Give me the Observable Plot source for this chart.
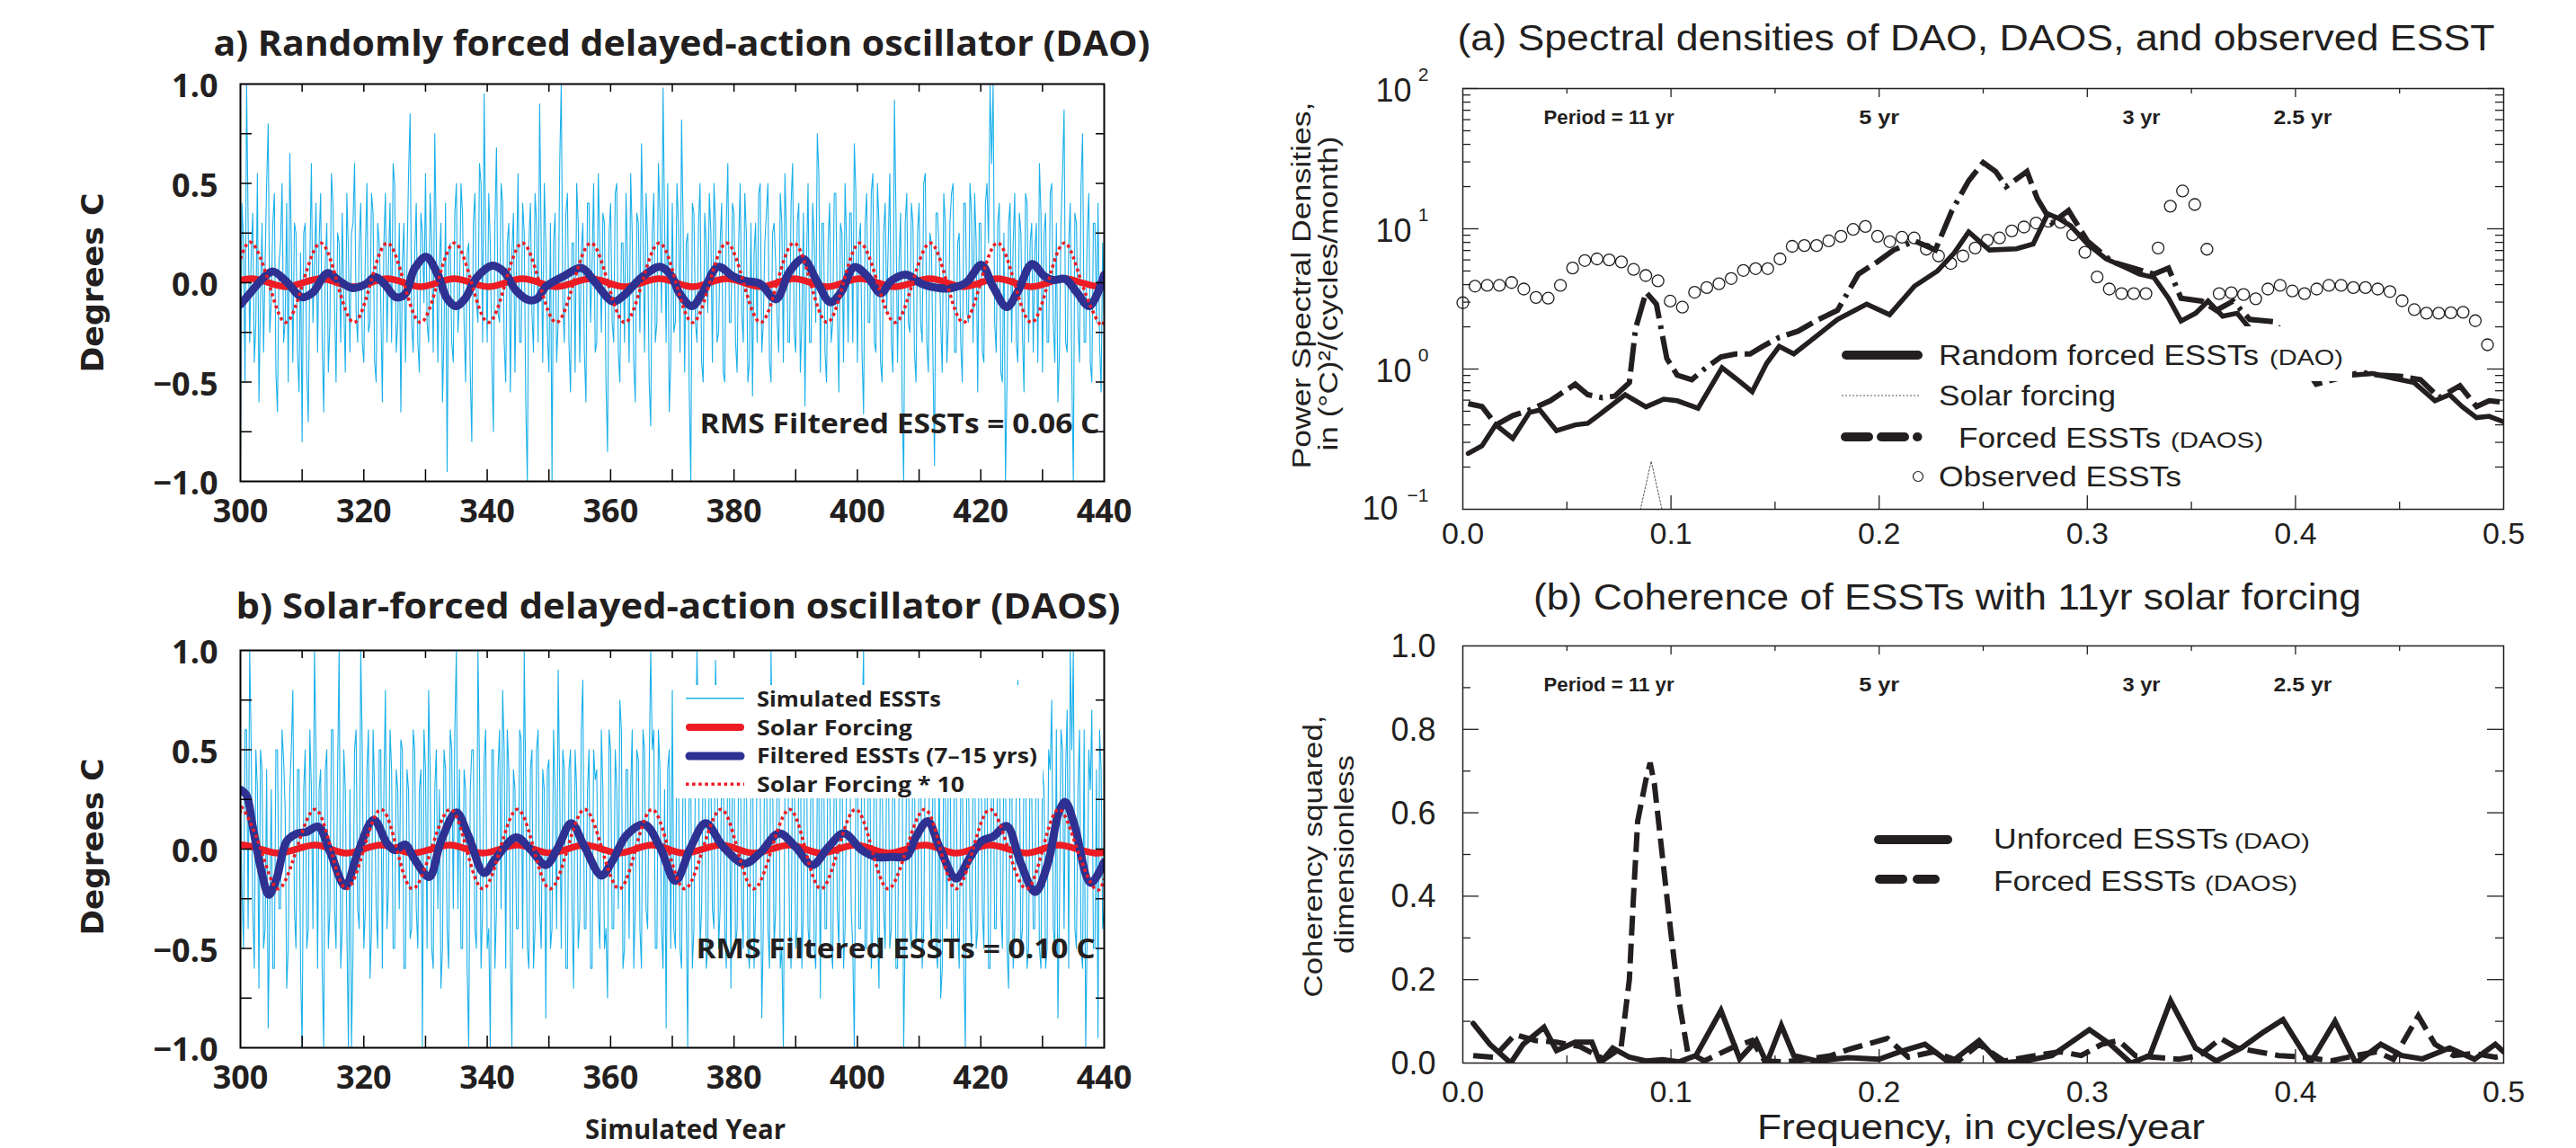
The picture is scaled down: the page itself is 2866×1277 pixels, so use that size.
<!DOCTYPE html>
<html>
<head>
<meta charset="utf-8">
<script src="https://cdn.jsdelivr.net/npm/d3@7"></script>
<script src="https://cdn.jsdelivr.net/npm/@observablehq/plot@0.6"></script>
<style>
html,body{margin:0;padding:0;background:#fff}
#root{position:relative;width:2866px;height:1277px;overflow:hidden;background:#fff}
.p{position:absolute}
.p svg{display:block;overflow:visible}
#overlay{position:absolute;left:0;top:0;pointer-events:none}
</style>
</head>
<body>
<div id="root">
  <div id="pa" class="p" style="left:0;top:0;width:1300px;height:600px"></div>
  <div id="pb" class="p" style="left:0;top:600px;width:1300px;height:677px"></div>
  <div id="pc" class="p" style="left:1400px;top:0;width:1466px;height:620px"></div>
  <div id="pd" class="p" style="left:1400px;top:620px;width:1466px;height:657px"></div>
  <svg id="overlay" width="2866" height="1277"></svg>
</div>
<script>
// ---------------- DATA ----------------
// Simulated ESSTs, read coarsely: values on the half-year (300, 300.5, ... 440)
const noiseA = [
-0.9,0.2,1.0,-0.3,0.35,-0.2,-0.6,0.3,0.1,0.8,-0.1,0.45,-0.65,0.2,-0.3,0.4,0.65,-0.4,0.25,-0.55,
-0.8,0.3,-0.7,0.6,0.1,-0.35,0.45,-0.65,0.3,-0.2,0.4,-0.5,0.2,0.35,-0.45,0.15,0.25,0.6,-0.3,0.4,
-0.4,0.5,-0.2,0.35,-0.5,0.2,-0.6,0.45,0.1,-0.3,0.5,-0.2,-0.65,0.3,0.1,0.85,-0.35,0.4,-0.45,0.25,
0.55,-0.3,0.2,0.75,-0.4,0.3,-0.25,-0.95,0.2,-0.4,0.5,-0.1,0.35,-0.5,0.2,-0.8,0.45,-0.2,0.5,0.95,
-0.3,0.2,-0.75,0.68,-0.2,0.4,-0.5,0.3,0.15,-0.45,0.55,-0.3,0.25,-1.0,0.4,-0.35,0.3,0.9,-0.4,0.2,
-0.45,-1.0,0.35,-0.2,1.0,-0.3,0.45,-0.55,0.2,0.5,-0.4,0.3,-0.6,0.4,0.1,-0.35,0.55,-0.25,0.3,-0.85,
0.4,-0.3,0.5,-0.5,0.2,0.45,-0.4,0.25,-0.6,0.3,0.7,-0.35,0.2,-0.72,0.45,-0.2,0.35,0.98,-0.3,-0.65,
0.4,-0.2,0.3,0.82,-0.45,0.25,-1.0,0.35,-0.3,0.5,-0.5,0.2,0.45,-0.4,0.3,-0.25,0.4,-0.5,0.6,-0.2,
0.35,-0.45,0.5,-0.3,0.25,-0.4,-0.57,0.3,0.45,-0.35,0.2,0.5,-0.5,0.3,-0.2,0.45,-0.4,0.25,-0.3,0.6,
-0.35,0.4,-0.2,-0.62,0.5,-0.3,0.2,0.75,-0.45,0.3,-0.5,0.4,-0.2,0.45,-0.55,0.25,0.5,-0.3,0.35,0.7,
-0.4,0.3,-0.66,0.45,-0.2,0.55,-0.35,0.3,-0.5,0.4,0.2,-0.3,0.92,-0.4,0.35,-1.0,0.45,-0.25,0.3,-0.5,
0.4,-0.3,0.55,-0.45,0.2,-0.92,0.35,-0.2,0.45,-0.4,0.3,0.5,-0.35,0.25,-0.5,0.4,-0.2,0.35,0.45,-0.55,
0.3,-0.4,0.5,1.0,1.0,-0.35,0.4,-0.5,-1.0,0.3,-0.3,0.45,-0.4,0.25,-0.55,0.4,0.2,-0.35,0.3,0.6,
-0.45,0.35,-0.3,0.5,-0.4,-0.6,0.3,0.87,-0.35,0.4,-1.0,0.3,-0.4,0.75,-0.3,0.45,-0.5,0.3,0.4,-0.55,
-0.2];
// ... and the values in between (300.25, 300.75, ... 439.75)
const noiseAmid = [
0.4,-0.5,0.3,0.15,-0.4,0.55,-0.1,-0.35,0.5,-0.25,0.3,-0.45,0.1,0.5,-0.2,-0.5,0.2,0.3,-0.35,0.15,
0.25,-0.45,0.1,-0.2,0.4,0.2,-0.3,0.1,-0.45,0.55,-0.1,0.25,-0.3,-0.1,0.45,-0.35,0.3,-0.15,0.2,-0.3,
0.15,-0.25,0.45,-0.4,0.3,-0.1,0.2,-0.3,0.4,0.6,-0.35,0.3,0.1,-0.4,0.55,-0.2,0.15,-0.3,0.35,-0.1,
-0.2,0.45,-0.35,0.2,0.1,-0.6,0.4,0.15,-0.3,0.35,-0.25,0.5,-0.2,0.15,-0.45,0.3,-0.1,0.6,-0.3,0.2,
0.45,-0.4,0.3,-0.15,0.5,-0.3,0.2,-0.55,0.35,0.1,-0.3,0.4,-0.6,0.2,-0.15,0.45,-0.3,0.2,0.5,-0.25,
0.3,0.2,-0.4,0.6,-0.1,0.35,-0.3,0.2,-0.45,0.3,0.15,-0.35,0.4,-0.2,0.5,-0.3,0.2,0.35,-0.5,0.25,
-0.2,0.45,-0.35,0.2,-0.3,0.1,0.55,-0.4,0.35,-0.25,0.3,0.45,-0.5,0.25,-0.3,0.6,-0.15,0.3,0.5,-0.4,
-0.25,0.5,-0.35,0.3,0.2,-0.55,0.4,-0.2,0.3,-0.4,0.35,-0.15,0.25,0.5,-0.3,0.2,-0.45,0.3,-0.2,0.4,
-0.3,0.2,-0.15,0.45,-0.5,0.3,0.15,-0.3,0.5,-0.2,0.35,-0.4,0.25,0.1,-0.35,0.3,0.55,-0.3,0.4,-0.25,
0.3,-0.45,0.35,0.1,-0.3,0.4,-0.2,0.55,0.3,-0.35,0.2,-0.3,0.45,-0.15,0.3,-0.4,0.2,0.35,-0.3,0.45,
0.2,-0.35,0.3,-0.2,0.45,-0.3,0.5,-0.4,0.25,-0.15,0.55,-0.45,0.35,0.1,-0.6,0.3,-0.2,0.4,-0.35,0.25,
-0.2,0.5,-0.3,0.25,-0.4,0.35,0.15,-0.45,0.3,-0.2,0.45,-0.35,0.2,-0.3,0.4,-0.15,0.5,-0.3,0.2,0.3,
-0.35,0.4,0.2,0.6,-0.2,0.3,-0.45,0.25,-0.5,0.4,0.2,-0.3,0.35,-0.25,0.45,-0.3,0.3,0.15,-0.4,0.35,
0.25,-0.3,0.45,-0.2,0.3,-0.35,0.55,-0.3,0.2,-0.45,0.35,-0.2,0.5,-0.3,0.25,-0.4,0.3,-0.2,-0.3,0.2];
const noiseB = [
0.3,-0.5,0.6,1.0,-0.3,0.5,-0.7,0.4,-0.4,-0.9,0.3,-0.6,0.5,-0.3,0.45,-0.7,0.3,0.8,-0.5,0.4,
-1.0,0.5,-0.4,0.3,1.0,-0.6,0.4,-1.0,0.5,-0.3,0.6,-0.5,1.0,-0.4,0.3,-1.0,-1.0,0.5,-0.3,1.0,
-0.5,0.4,-0.65,0.6,-0.3,0.5,-0.6,0.8,-0.2,0.4,-0.5,0.3,0.55,-0.6,0.4,-0.45,0.6,-0.3,0.3,-1.0,
0.4,0.8,-0.5,0.3,-0.3,-0.7,0.5,-0.4,0.6,-0.3,1.0,0.4,-0.5,0.3,-1.0,0.5,-0.4,1.0,-0.6,0.45,
-0.5,-1.0,0.5,-0.3,0.6,0.8,-0.6,0.4,-1.0,0.3,-0.4,0.55,1.0,-0.5,0.4,-0.6,0.5,-0.3,0.4,-0.85,
0.45,-0.4,0.3,0.9,-0.5,0.4,-0.6,0.5,-0.7,0.3,-0.35,0.85,-0.4,0.5,-0.6,0.35,-0.3,0.6,-0.5,-0.75,
0.5,-0.4,0.3,0.75,-0.6,0.4,-0.45,0.6,-0.3,0.45,-0.6,0.5,-0.4,1.0,0.6,-0.5,0.4,-0.6,-0.9,0.5,
0.8,-0.5,0.4,-0.6,0.5,-1.0,0.3,-0.4,1.0,-0.5,0.45,-0.6,0.5,-0.3,0.95,-0.5,0.4,-0.4,0.6,-0.7,
0.5,-0.4,0.6,-0.5,0.4,-0.6,0.5,-0.3,0.45,-0.85,0.6,-0.4,1.0,-0.5,0.4,-0.6,-1.0,0.5,-0.4,0.6,
-0.5,0.4,-0.6,0.8,-0.4,0.5,-0.5,0.3,-0.75,0.6,-0.4,0.5,-0.6,0.4,-0.5,0.6,-0.4,0.5,-0.3,-1.0,
0.5,-0.4,1.0,-0.5,0.6,-0.4,0.5,-0.7,0.4,-0.5,0.6,-0.4,0.5,-0.6,0.3,-1.0,0.5,-0.4,0.6,-0.5,
0.4,-0.6,0.5,0.8,-0.5,0.4,-0.6,-0.75,0.5,-0.4,0.6,-0.5,0.4,-0.6,0.5,-1.0,0.4,-0.5,0.6,-0.4,
0.75,-0.5,0.4,-0.6,0.5,-0.4,0.6,-0.5,0.4,-0.7,0.5,-0.4,0.85,-0.5,0.4,-0.6,0.5,-0.4,0.6,-0.5,
0.4,-0.6,0.5,0.75,-0.5,-0.85,0.6,-0.4,0.7,1.0,1.0,-0.5,0.6,-0.6,-1.0,0.5,0.7,-0.5,-0.95,0.4,
-0.3];
const noiseBmid = [
-0.2,0.6,-0.4,0.5,-0.6,0.3,0.5,-0.5,0.4,-0.3,-0.6,0.5,-0.3,0.6,0.2,-0.5,0.5,-0.3,0.4,-0.6,
0.3,-0.5,0.6,-0.4,0.5,0.3,-0.6,0.4,-0.5,0.6,-0.3,0.4,-0.6,0.5,-0.4,0.3,-0.5,0.6,-0.4,0.5,
-0.3,0.6,-0.4,0.3,-0.5,0.5,0.3,-0.4,0.6,-0.5,0.4,-0.3,0.5,-0.6,0.3,-0.4,0.5,-0.5,0.4,0.6,
-0.5,0.4,-0.6,0.5,0.3,-0.5,0.4,-0.6,0.5,0.6,-0.3,-0.5,0.4,-0.6,0.3,0.5,-0.5,0.4,-0.3,0.6,
-0.4,0.5,-0.6,0.4,-0.3,0.5,0.6,-0.5,0.4,-0.4,0.6,-0.5,0.3,-0.6,0.5,-0.4,0.6,-0.5,0.3,0.4,
-0.5,0.6,-0.4,0.3,0.5,-0.6,0.4,-0.3,0.5,-0.5,0.6,-0.4,0.3,-0.6,0.5,0.4,-0.5,0.3,-0.4,0.6,
-0.4,0.5,-0.3,0.6,-0.5,0.4,0.3,-0.6,0.5,-0.4,0.6,-0.3,0.4,0.5,-0.5,0.6,-0.4,0.3,0.4,-0.5,
-0.4,0.6,-0.5,0.4,-0.3,0.5,-0.6,0.4,0.5,-0.3,0.6,-0.5,0.4,-0.4,0.6,-0.3,0.5,-0.6,0.4,0.5,
-0.5,0.4,-0.3,0.6,-0.5,0.4,-0.6,0.5,0.3,-0.4,0.5,-0.6,0.4,-0.3,0.6,-0.5,0.3,0.4,-0.6,0.5,
-0.4,0.6,-0.3,0.5,-0.5,0.4,-0.6,0.3,0.5,-0.4,0.6,-0.5,0.4,-0.3,0.5,-0.6,0.4,0.6,-0.5,0.3,
-0.4,0.6,-0.5,0.3,-0.6,0.5,-0.4,0.6,-0.3,0.5,-0.5,0.4,-0.6,0.3,0.5,-0.4,0.6,-0.5,0.4,-0.3,
0.5,-0.4,0.6,-0.3,0.4,-0.5,0.5,-0.6,0.3,0.4,-0.5,0.6,-0.4,0.3,-0.6,0.5,-0.3,0.4,-0.5,0.6,
-0.3,0.5,-0.6,0.4,-0.4,0.6,-0.3,0.5,-0.5,0.4,-0.6,0.3,0.5,-0.4,0.6,-0.5,0.3,-0.4,0.5,-0.6,
0.3,-0.5,0.4,-0.4,0.6,-0.3,0.5,0.4,-0.6,0.5,-0.4,0.3,-0.5,0.6,-0.4,0.3,-0.5,0.4,0.6,-0.4];

// Solar forcing * 10: [year, value] at peaks, troughs and zero crossings
const solarA = [[300,0.12],[301.9,0.2],[304.6,0],[307.3,-0.2],[310.15,0],[313.0,0.2],[315.7,0],[318.4,-0.2],[321.1,0],[323.8,0.2],[326.5,0],[329.2,-0.2],[331.95,0],[334.7,0.2],[337.45,0],[340.2,-0.2],[342.95,0],[345.7,0.2],[348.45,0],[351.2,-0.2],[354,0],[356.8,0.2],[359.55,0],[362.3,-0.2],[365.1,0],[367.9,0.2],[370.6,0],[373.3,-0.2],[376.05,0],[378.8,0.2],[381.55,0],[384.3,-0.2],[387,0],[389.7,0.2],[392.4,0],[395.1,-0.2],[397.75,0],[400.4,0.2],[403.25,0],[406.1,-0.2],[408.95,0],[411.8,0.2],[414.5,0],[417.2,-0.2],[419.95,0],[422.7,0.2],[425.45,0],[428.2,-0.2],[430.9,0],[433.6,0.2],[436.35,0],[439.1,-0.2],[440,-0.19]];
const solarB = [[300,0.18],[300.5,0.2],[303.3,0],[306.1,-0.2],[309.1,0],[312.1,0.2],[314.65,0],[317.2,-0.2],[320,0],[322.8,0.2],[325.35,0],[327.9,-0.2],[330.95,0],[334.0,0.2],[336.65,0],[339.3,-0.2],[342.1,0],[344.9,0.2],[347.55,0],[350.2,-0.2],[353,0],[355.8,0.2],[358.6,0],[361.4,-0.2],[364.05,0],[366.7,0.2],[369.35,0],[372,-0.2],[374.95,0],[377.9,0.2],[380.55,0],[383.2,-0.2],[386.1,0],[389,0.2],[391.55,0],[394.1,-0.2],[396.9,0],[399.7,0.2],[402.35,0],[405,-0.2],[407.95,0],[410.9,0.2],[413.45,0],[416,-0.2],[418.75,0],[421.5,0.2],[424.45,0],[427.4,-0.2],[430.05,0],[432.7,0.2],[435.6,0],[438.5,-0.2],[440,-0.15]];

// Filtered ESSTs (7-15 yrs)
const filteredA = [[300,-0.11],[301.9,-0.04],[303.9,0.03],[305.3,0.056],[307.3,0.01],[310,-0.073],[311.7,-0.05],[314.1,0.048],[316,0.01],[318.2,-0.027],[320.4,-0.005],[321.8,0.029],[323.3,-0.005],[325.2,-0.073],[326.7,-0.057],[328.2,0.07],[330.1,0.13],[332,0.04],[333.5,-0.08],[334.9,-0.118],[336.4,-0.08],[338.3,0.026],[340.8,0.086],[342.7,0.056],[344.7,-0.04],[346.8,-0.088],[348.1,-0.08],[349.5,-0.02],[352.4,0.033],[355.3,0.074],[357.3,0.01],[360.4,-0.095],[362.1,-0.065],[365,0.026],[368,0.08],[369.9,0.033],[371.1,-0.05],[373.2,-0.118],[374.9,-0.05],[377.4,0.08],[379.8,0.033],[381.7,0.01],[384.2,-0.005],[386.8,-0.083],[389,0.056],[391.2,0.12],[393.4,0.01],[395.6,-0.098],[397.3,-0.05],[399.5,0.079],[401.6,0.033],[403.8,-0.053],[405.5,0.01],[408,0.04],[410.4,-0.005],[413.3,-0.027],[415.2,-0.027],[417.7,0.003],[420.1,0.09],[422,-0.02],[424.2,-0.122],[425.9,-0.05],[428.3,0.094],[430.3,0.033],[431.7,0.014],[433.7,0.018],[435.6,-0.05],[437.6,-0.118],[440,0.04]];
const filteredB = [[300,0.30],[301,0.27],[301.9,0.13],[303.4,-0.11],[304.6,-0.23],[305.8,-0.155],[307.5,0.04],[309.2,0.079],[310.7,0.086],[312.6,0.113],[314.6,-0.02],[317,-0.186],[319,-0.02],[321.6,0.147],[323.8,0.026],[325,-0.005],[326.7,0.023],[328.2,-0.05],[330.6,-0.14],[332.5,0.04],[335,0.184],[336.9,0.07],[339.5,-0.12],[341.3,-0.05],[344.7,0.059],[347.1,-0.005],[349.5,-0.08],[351.5,0.01],[353.6,0.13],[355.8,0.01],[358.5,-0.133],[360.2,-0.065],[362.6,0.071],[365.5,0.124],[368,0.01],[370.5,-0.16],[373,0.01],[375.4,0.13],[378.3,0.01],[381.7,-0.073],[384.2,-0.02],[387.3,0.079],[390,0.01],[392.7,-0.08],[395.3,0.01],[397.8,0.079],[400.7,-0.005],[403.1,-0.04],[405.5,-0.04],[408,-0.035],[409.4,0.056],[411.4,0.14],[413.3,0.01],[416,-0.148],[418.1,-0.05],[420.1,0.04],[422,0.063],[424.2,0.116],[426.4,-0.065],[428.8,-0.216],[430.8,-0.08],[432.7,0.19],[433.7,0.237],[435.1,0.13],[437.8,-0.17],[440,-0.065]];

// Spectral densities [frequency, PSD]
const psdDAO = [[0.0026,0.25],[0.0092,0.283],[0.0158,0.40],[0.024,0.32],[0.032,0.49],[0.037,0.51],[0.045,0.363],[0.054,0.40],[0.060,0.41],[0.067,0.49],[0.078,0.656],[0.088,0.537],[0.0965,0.61],[0.103,0.594],[0.113,0.525],[0.1245,1.02],[0.131,0.86],[0.139,0.69],[0.146,1.1],[0.152,1.45],[0.159,1.28],[0.171,1.77],[0.18,2.26],[0.194,2.9],[0.205,2.44],[0.217,3.9],[0.228,5.0],[0.236,6.7],[0.243,9.5],[0.253,7.06],[0.266,7.2],[0.274,7.8],[0.281,12.8],[0.286,11.9],[0.292,10.5],[0.3,7.8],[0.309,6.1],[0.319,5.25],[0.325,4.75],[0.332,4.5],[0.339,3.2],[0.345,2.2],[0.352,2.5],[0.358,3.05],[0.365,2.38],[0.372,2.5],[0.378,1.95],[0.385,1.7],[0.395,1.4],[0.405,1.15],[0.415,1.0],[0.4275,0.905],[0.437,0.93],[0.447,0.86],[0.457,0.80],[0.467,0.594],[0.474,0.656],[0.48,0.54],[0.487,0.45],[0.493,0.46],[0.5,0.42]];
const psdDAOS = [[0.0026,0.566],[0.0092,0.54],[0.016,0.40],[0.024,0.465],[0.032,0.51],[0.042,0.594],[0.054,0.78],[0.060,0.656],[0.067,0.625],[0.073,0.64],[0.08,0.80],[0.083,1.95],[0.088,3.53],[0.093,2.9],[0.098,1.19],[0.103,0.905],[0.11,0.84],[0.116,1.0],[0.124,1.22],[0.131,1.28],[0.138,1.28],[0.144,1.45],[0.152,1.68],[0.161,1.86],[0.171,2.26],[0.18,2.62],[0.19,4.75],[0.199,5.8],[0.207,7.06],[0.217,8.2],[0.227,7.06],[0.235,13.5],[0.243,22],[0.25,29.7],[0.256,25.6],[0.261,20],[0.271,25.6],[0.276,16.4],[0.283,11],[0.291,13.5],[0.3,8.2],[0.312,5.8],[0.322,5.25],[0.332,4.75],[0.339,5.25],[0.345,3.2],[0.355,3.05],[0.362,2.62],[0.37,3.05],[0.378,2.26],[0.39,2.17],[0.40,1.3],[0.41,0.78],[0.421,0.86],[0.431,0.95],[0.44,0.905],[0.45,0.89],[0.46,0.84],[0.469,0.625],[0.479,0.76],[0.487,0.54],[0.493,0.594],[0.5,0.58]];
const psdSolar = [[0.083,0.07],[0.0905,0.22],[0.098,0.07]];
const obsStep = 0.00586; // frequency spacing of the observed estimates
const psdObserved = [2.97,3.9,3.95,3.95,4.14,3.72,3.24,3.2,3.95,5.25,5.94,6.1,6.0,5.8,5.13,4.64,4.25,3.05,2.76,3.53,3.81,4.06,4.42,5.05,5.2,5.2,6.1,7.5,7.6,7.6,8.2,8.84,9.9,10.4,8.84,8.1,8.7,8.6,7.15,6.4,5.66,6.4,7.3,8.3,8.6,9.66,10.3,11.0,11.3,11.1,9.06,6.8,4.53,3.72,3.45,3.45,3.45,7.3,14.5,18.6,14.9,7.15,3.45,3.5,3.4,3.17,3.72,3.95,3.6,3.45,3.72,3.95,3.95,3.81,3.81,3.72,3.57,3.07,2.65,2.5,2.5,2.52,2.54,2.21,1.49];

// Coherence squared [frequency, coherence]
const cohDAO = [[0.005,0.095],[0.013,0.045],[0.023,0.0],[0.029,0.045],[0.039,0.086],[0.045,0.03],[0.054,0.05],[0.062,0.05],[0.066,0.0],[0.072,0.036],[0.08,0.014],[0.088,0.005],[0.096,0.008],[0.104,0.003],[0.112,0.018],[0.124,0.126],[0.133,0.01],[0.141,0.054],[0.146,0.0],[0.153,0.09],[0.159,0.018],[0.17,0.005],[0.185,0.013],[0.2,0.009],[0.21,0.027],[0.222,0.045],[0.234,0.0],[0.248,0.054],[0.258,0.0],[0.27,0.005],[0.283,0.018],[0.301,0.08],[0.311,0.045],[0.321,0.0],[0.33,0.018],[0.34,0.149],[0.352,0.036],[0.362,0.005],[0.374,0.036],[0.384,0.072],[0.394,0.104],[0.407,0.0],[0.419,0.1],[0.429,0.0],[0.441,0.045],[0.451,0.018],[0.461,0.01],[0.474,0.036],[0.486,0.009],[0.496,0.045],[0.5,0.027]];
const cohDAOS = [[0.005,0.018],[0.015,0.014],[0.025,0.068],[0.035,0.054],[0.045,0.05],[0.056,0.04],[0.068,0.009],[0.076,0.036],[0.08,0.2],[0.082,0.4],[0.084,0.58],[0.088,0.68],[0.09,0.72],[0.092,0.67],[0.096,0.49],[0.1,0.31],[0.104,0.144],[0.108,0.027],[0.116,0.005],[0.129,0.036],[0.139,0.054],[0.145,0.005],[0.155,0.003],[0.165,0.009],[0.177,0.018],[0.185,0.032],[0.194,0.045],[0.204,0.059],[0.214,0.014],[0.226,0.027],[0.238,0.005],[0.248,0.045],[0.26,0.005],[0.275,0.018],[0.287,0.027],[0.297,0.018],[0.307,0.045],[0.315,0.054],[0.323,0.018],[0.332,0.014],[0.344,0.009],[0.354,0.018],[0.364,0.059],[0.372,0.036],[0.382,0.027],[0.392,0.018],[0.405,0.014],[0.417,0.005],[0.429,0.018],[0.439,0.027],[0.447,0.009],[0.459,0.113],[0.467,0.045],[0.476,0.018],[0.486,0.023],[0.496,0.014],[0.5,0.018]];

// Ticks and labels
const yearLabels = [300,320,340,360,380,400,420,440];
const yearTicks = [310,320,330,340,350,360,370,380,390,400,410,420,430];
const degLabels = [-1,-0.5,0,0.5,1];
const degTicks = [-0.75,-0.5,-0.25,0,0.25,0.5,0.75];
const freqLabels = [0,0.1,0.2,0.3,0.4,0.5];
const freqMajor = [0.1,0.2,0.3,0.4];
const freqMinor = [0.05,0.15,0.25,0.35,0.45];
const psdDecades = [1,10,100];
const psdMinor = [0.2,0.3,0.4,0.5,0.6,0.7,0.8,0.9,2,3,4,5,6,7,8,9,20,30,40,50,60,70,80,90];
const cohLabels = [0,0.2,0.4,0.6,0.8,1];
const cohMajor = [0.2,0.4,0.6,0.8];
const cohMinor = [0.1,0.3,0.5,0.7,0.9];
const periods = [11,5,3,2.5];

// interleave the two sampling phases into one series
function interleave(main, mid) {
  const out = [];
  main.forEach((v, i) => {
    out.push({t: 300 + i / 2, v});
    if (i < mid.length) out.push({t: 300.25 + i / 2, v: mid[i]});
  });
  return out;
}

// ---------------- STYLE ----------------
const CYAN = "#1ab0ea", BLUE = "#2e3192", RED = "#ed1c24", INK = "#231f20";
const F_LEFT = "'Open Sans','Noto Sans',sans-serif";
const F_DEG = "'DejaVu Sans',sans-serif";
const F_RIGHT = "'Liberation Sans',Arial,sans-serif";
const F_NARROW = "'Liberation Sans Narrow','Liberation Sans',sans-serif";
const f1 = d3.format(".1f");
const STYLE = {background: "transparent", maxWidth: "none", overflow: "visible"};

function fit(svg, map) {
  svg.querySelectorAll("text").forEach(t => {
    const s = t.textContent;
    if (map[s] != null) { t.setAttribute("textLength", map[s]); t.setAttribute("lengthAdjust", "spacingAndGlyphs"); }
  });
}
const txt = (s, opts) => Plot.text([s], {text: d => d, fill: INK, ...opts});

function timePanel(o) {
  const W = 1300, H = o.height, mL = 267, mR = 72, mT = o.mTop, mB = o.mBottom;
  const fw = W - mL - mR, fh = H - mT - mB;
  const noiseRows = interleave(o.noise, o.noiseMid);
  const tk = {stroke: "#000", strokeWidth: 1.5};
  const marks = [
    Plot.line(noiseRows, {x: "t", y: "v", stroke: CYAN, strokeWidth: 1.1, clip: true}),
    Plot.line(o.solar, {x: d => d[0], y: d => d[1] / 10, stroke: RED, strokeWidth: 7.5, curve: "natural", clip: true}),
    Plot.line(o.filtered, {x: d => d[0], y: d => d[1], stroke: BLUE, strokeWidth: 9, curve: "catmull-rom", clip: true}),
    Plot.line(o.solar, {x: d => d[0], y: d => d[1], stroke: RED, strokeWidth: 3.6, strokeDasharray: "3.5,3.6", strokeLinecap: "butt", curve: "natural", clip: true}),
    Plot.frame({stroke: "#000", strokeWidth: 2}),
    Plot.tickX(yearTicks, {x: d => d, insetTop: fh - 13, ...tk}),
    Plot.tickX(yearTicks, {x: d => d, insetBottom: fh - 9, ...tk}),
    Plot.tickY(degTicks, {y: d => d, insetRight: fw - 13, ...tk}),
    Plot.tickY(degTicks, {y: d => d, insetLeft: fw - 9, ...tk}),
    Plot.text(yearLabels, {x: d => d, text: d => String(d), frameAnchor: "bottom", dy: 34, lineAnchor: "middle", fontFamily: F_LEFT, fontWeight: "bold", fontSize: 36, fill: INK}),
    Plot.text(degLabels, {y: d => d, text: d => f1(d), frameAnchor: "left", dx: -25, dy: 3, textAnchor: "end", lineAnchor: "middle", fontFamily: F_LEFT, fontWeight: "bold", fontSize: 36, fill: INK}),
    txt(o.title, {frameAnchor: "top-left", dx: o.titleDx, dy: o.titleDy, textAnchor: "start", lineAnchor: "bottom", fontFamily: F_LEFT, fontWeight: "bold", fontSize: 40}),
    txt("Degrees C", {frameAnchor: "left", dx: -163, dy: o.degDy, rotate: -90, textAnchor: "middle", lineAnchor: "middle", fontFamily: F_DEG, fontWeight: "bold", fontSize: 34}),
    txt(o.rms, {frameAnchor: "bottom-right", dx: o.rmsDx, dy: o.rmsDy, textAnchor: "end", lineAnchor: "bottom", fontFamily: F_LEFT, fontWeight: "bold", fontSize: 30})
  ];
  if (o.xTitle) marks.push(txt(o.xTitle, {frameAnchor: "bottom", dx: 14.5, dy: 101, lineAnchor: "bottom", fontFamily: F_LEFT, fontWeight: "bold", fontSize: 30}));
  const svg = Plot.plot({width: W, height: H, marginLeft: mL, marginRight: mR, marginTop: mT, marginBottom: mB, style: STYLE,
    x: {domain: [300, 440], axis: null}, y: {domain: [-1, 1], axis: null}, marks});
  fit(svg, o.fits);
  return svg;
}

function freqCommon(fw, fh, xdy, periodDy) {
  const tk = {stroke: INK, strokeWidth: 1.3};
  const pl = {frameAnchor: "top", dy: periodDy, lineAnchor: "middle", fontFamily: F_NARROW, fontWeight: "bold", fontSize: 22, fill: INK};
  return [
    Plot.tickX(freqMajor, {x: d => d, insetTop: fh - 15, ...tk}),
    Plot.tickX(freqMinor, {x: d => d, insetTop: fh - 8, ...tk}),
    Plot.tickX(freqMajor, {x: d => d, insetBottom: fh - 10, ...tk}),
    Plot.tickX(freqMinor, {x: d => d, insetBottom: fh - 6, ...tk}),
    Plot.text(freqLabels, {x: d => d, text: d => f1(d), frameAnchor: "bottom", dy: xdy, lineAnchor: "middle", fontFamily: F_RIGHT, fontSize: 34, fill: INK}),
    Plot.text(periods.slice(0, 1), {x: p => 1 / p, text: p => `Period = ${p} yr`, dx: 24.5, textAnchor: "end", ...pl}),
    Plot.text(periods.slice(1, 2), {x: p => 1 / p, text: p => `${p} yr`, dx: 0, ...pl}),
    Plot.text(periods.slice(2, 3), {x: p => 1 / p, text: p => `${p} yr`, dx: -17, ...pl}),
    Plot.text(periods.slice(3, 4), {x: p => 1 / p, text: p => `${p} yr`, dx: 8, ...pl})
  ];
}
const periodFits = {"Period = 11 yr": 145, "5 yr": 45, "3 yr": 42, "2.5 yr": 65};

function spectralPanel() {
  const W = 1466, H = 620, mL = 227, mR = 81, mT = 98, mB = 54;
  const fw = W - mL - mR, fh = H - mT - mB;
  const obsRows = psdObserved.map((v, i) => ({f: i * obsStep, v}));
  const tk = {stroke: INK, strokeWidth: 1.3};
  const svg = Plot.plot({width: W, height: H, marginLeft: mL, marginRight: mR, marginTop: mT, marginBottom: mB, style: STYLE,
    x: {domain: [0, 0.5], axis: null}, y: {type: "log", domain: [0.1, 100], axis: null},
    marks: [
      Plot.line(psdSolar, {x: d => d[0], y: d => d[1], stroke: "#555", strokeWidth: 1, strokeDasharray: "2,2", clip: true}),
      Plot.dot(obsRows, {x: "f", y: "v", r: 6.5, stroke: INK, strokeWidth: 1.3, fill: "none"}),
      Plot.line(psdDAO, {x: d => d[0], y: d => d[1], stroke: INK, strokeWidth: 5.5, strokeLinejoin: "miter", strokeMiterlimit: 3, clip: true}),
      Plot.line(psdDAOS, {x: d => d[0], y: d => d[1], stroke: INK, strokeWidth: 6, strokeDasharray: "32,8,32,8,4,8", strokeLinecap: "butt", strokeLinejoin: "miter", strokeMiterlimit: 3, clip: true}),
      Plot.frame({stroke: INK, strokeWidth: 1.5}),
      Plot.tickY(psdDecades, {y: d => d, insetRight: fw - 18, ...tk}),
      Plot.tickY(psdMinor, {y: d => d, insetRight: fw - 9, ...tk}),
      Plot.tickY(psdDecades, {y: d => d, insetLeft: fw - 18, ...tk}),
      Plot.tickY(psdMinor, {y: d => d, insetLeft: fw - 9, ...tk}),
      ...freqCommon(fw, fh, 28, 32),
      Plot.text(psdDecades, {y: d => d, text: () => "10", frameAnchor: "left", dx: -57, dy: 3, textAnchor: "end", lineAnchor: "middle", fontFamily: F_RIGHT, fontSize: 36, fill: INK}),
      Plot.text([0.1], {y: d => d, text: () => "10", frameAnchor: "left", dx: -72, dy: 0, textAnchor: "end", lineAnchor: "middle", fontFamily: F_RIGHT, fontSize: 36, fill: INK}),
      Plot.text([0.1].concat(psdDecades), {y: d => d, text: d => String(Math.round(Math.log10(d))).replace("-", "\u2212"), frameAnchor: "left", dx: -38, dy: -15, textAnchor: "end", lineAnchor: "middle", fontFamily: F_RIGHT, fontSize: 21, fill: INK}),
      txt("(a) Spectral densities of DAO, DAOS, and observed ESST", {frameAnchor: "top-left", dx: -6, dy: -43, textAnchor: "start", lineAnchor: "bottom", fontFamily: F_RIGHT, fontSize: 40}),
      txt("Power Spectral Densities,", {frameAnchor: "left", dx: -179, dy: -15, rotate: -90, textAnchor: "middle", lineAnchor: "middle", fontFamily: F_RIGHT, fontSize: 30}),
      txt("in (\u00B0C)\u00B2/(cycles/month)", {frameAnchor: "left", dx: -149, dy: -6, rotate: -90, textAnchor: "middle", lineAnchor: "middle", fontFamily: F_RIGHT, fontSize: 30})
    ]});
  fit(svg, {...periodFits, "(a) Spectral densities of DAO, DAOS, and observed ESST": 1154, "Power Spectral Densities,": 408, "in (\u00B0C)\u00B2/(cycles/month)": 350});
  return svg;
}

function coherencePanel() {
  const W = 1466, H = 657, mL = 227, mR = 81, mT = 98, mB = 95;
  const fw = W - mL - mR, fh = H - mT - mB;
  const tk = {stroke: INK, strokeWidth: 1.3};
  const svg = Plot.plot({width: W, height: H, marginLeft: mL, marginRight: mR, marginTop: mT, marginBottom: mB, style: STYLE,
    x: {domain: [0, 0.5], axis: null}, y: {domain: [0, 1], axis: null},
    marks: [
      Plot.line(cohDAO, {x: d => d[0], y: d => d[1], stroke: INK, strokeWidth: 6, strokeLinejoin: "miter", strokeMiterlimit: 3, clip: true}),
      Plot.line(cohDAOS, {x: d => d[0], y: d => d[1], stroke: INK, strokeWidth: 6, strokeDasharray: "22,9", strokeLinecap: "butt", strokeLinejoin: "miter", strokeMiterlimit: 3, clip: true}),
      Plot.frame({stroke: INK, strokeWidth: 1.5}),
      Plot.tickY(cohMajor, {y: d => d, insetRight: fw - 18, ...tk}),
      Plot.tickY(cohMinor, {y: d => d, insetRight: fw - 9, ...tk}),
      Plot.tickY(cohMajor, {y: d => d, insetLeft: fw - 18, ...tk}),
      Plot.tickY(cohMinor, {y: d => d, insetLeft: fw - 9, ...tk}),
      ...freqCommon(fw, fh, 33, 43),
      Plot.text(cohLabels, {y: d => d, text: d => f1(d), frameAnchor: "left", dx: -30, dy: 1, textAnchor: "end", lineAnchor: "middle", fontFamily: F_RIGHT, fontSize: 36, fill: INK}),
      txt("(b) Coherence of ESSTs with 11yr solar forcing", {frameAnchor: "top-left", dx: 78.5, dy: -41, textAnchor: "start", lineAnchor: "bottom", fontFamily: F_RIGHT, fontSize: 40}),
      txt("Coherency squared,", {frameAnchor: "left", dx: -166, dy: 2, rotate: -90, textAnchor: "middle", lineAnchor: "middle", fontFamily: F_RIGHT, fontSize: 30}),
      txt("dimensionless", {frameAnchor: "left", dx: -131, dy: 0, rotate: -90, textAnchor: "middle", lineAnchor: "middle", fontFamily: F_RIGHT, fontSize: 30}),
      txt("Frequency, in cycles/year", {frameAnchor: "bottom", dx: -2.5, dy: 84, lineAnchor: "bottom", fontFamily: F_RIGHT, fontSize: 39})
    ]});
  fit(svg, {...periodFits, "(b) Coherence of ESSTs with 11yr solar forcing": 921, "Coherency squared,": 314, "dimensionless": 221, "Frequency, in cycles/year": 498});
  return svg;
}

document.getElementById("pa").append(timePanel({
  height: 600, mTop: 93, mBottom: 65, noise: noiseA, noiseMid: noiseAmid, solar: solarA, filtered: filteredA,
  title: "a) Randomly forced delayed-action oscillator (DAO)", titleDx: -30, titleDy: -31.5,
  rms: "RMS Filtered ESSTs = 0.06 C", rmsDx: -5, rmsDy: -54, degDy: 0,
  fits: {"a) Randomly forced delayed-action oscillator (DAO)": 1042, "RMS Filtered ESSTs = 0.06 C": 445, "Degrees C": 200}
}));
document.getElementById("pb").append(timePanel({
  height: 677, mTop: 123, mBottom: 112, noise: noiseB, noiseMid: noiseBmid, solar: solarB, filtered: filteredB,
  title: "b) Solar-forced delayed-action oscillator (DAOS)", titleDx: -5, titleDy: -36,
  rms: "RMS Filtered ESSTs = 0.10 C", rmsDx: -10, rmsDy: -100, degDy: -2.5, xTitle: "Simulated Year",
  fits: {"b) Solar-forced delayed-action oscillator (DAOS)": 984, "RMS Filtered ESSTs = 0.10 C": 444, "Degrees C": 197, "Simulated Year": 223}
}));
document.getElementById("pc").append(spectralPanel());
document.getElementById("pd").append(coherencePanel());

// ---------------- LEGENDS (overlay) ----------------
const ov = d3.select("#overlay");
function legText(x, y, s, size, len, fam, weight) {
  ov.append("text").attr("x", x).attr("y", y).attr("font-family", fam).attr("font-size", size)
    .attr("font-weight", weight || "normal").attr("fill", INK)
    .attr("textLength", len).attr("lengthAdjust", "spacingAndGlyphs").text(s);
}
function seg(x1, x2, y, stroke, w, extra) {
  const l = ov.append("line").attr("x1", x1).attr("x2", x2).attr("y1", y).attr("y2", y)
    .attr("stroke", stroke).attr("stroke-width", w);
  if (extra) Object.entries(extra).forEach(([k, v]) => l.attr(k, v));
}
// panel b legend
ov.append("rect").attr("x", 752).attr("y", 762).attr("width", 408).attr("height", 126).attr("fill", "#fff");
seg(763, 828, 776.7, CYAN, 1.5);
seg(767, 824, 809, RED, 8, {"stroke-linecap": "round"});
seg(767, 824, 841, BLUE, 9, {"stroke-linecap": "round"});
seg(763, 828, 872.3, RED, 3.6, {"stroke-dasharray": "3.5,3.6"});
legText(842, 785.7, "Simulated ESSTs", 24, 205, F_LEFT, "bold");
legText(842, 817.7, "Solar Forcing", 24, 173, F_LEFT, "bold");
legText(842, 849, "Filtered ESSTs (7\u201315 yrs)", 24, 312, F_LEFT, "bold");
legText(842, 881, "Solar Forcing * 10", 24, 231, F_LEFT, "bold");
// spectral legend
ov.append("rect").attr("x", 2041).attr("y", 363).attr("width", 576).attr("height", 61).attr("fill", "#fff");
seg(2054, 2134, 395, INK, 10, {"stroke-linecap": "round"});
seg(2049, 2136, 440, "#555", 1, {"stroke-dasharray": "2,2"});
seg(2053, 2079, 486, INK, 10, {"stroke-linecap": "round"});
seg(2093, 2119, 486, INK, 10, {"stroke-linecap": "round"});
seg(2133, 2133.5, 486, INK, 10, {"stroke-linecap": "round"});
ov.append("circle").attr("cx", 2134).attr("cy", 530).attr("r", 5.5).attr("fill", "none").attr("stroke", INK).attr("stroke-width", 1.2);
legText(2157, 406, "Random forced ESSTs", 31, 356, F_RIGHT);
legText(2525, 406, "(DAO)", 24, 82, F_RIGHT);
legText(2157, 451, "Solar forcing", 31, 197, F_RIGHT);
legText(2179, 498, "Forced ESSTs", 31, 225, F_RIGHT);
legText(2415, 498, "(DAOS)", 24, 103, F_RIGHT);
legText(2157, 541, "Observed ESSTs", 31, 270, F_RIGHT);
// coherence legend
seg(2090, 2167, 934, INK, 10, {"stroke-linecap": "round"});
seg(2091, 2117, 978, INK, 10, {"stroke-linecap": "round"});
seg(2133, 2153, 978, INK, 10, {"stroke-linecap": "round"});
legText(2218, 944, "Unforced ESSTs", 32, 261, F_RIGHT);
legText(2486, 944, "(DAO)", 24, 84, F_RIGHT);
legText(2218, 991, "Forced ESSTs", 32, 225, F_RIGHT);
legText(2453, 991, "(DAOS)", 24, 103, F_RIGHT);
</script>
</body>
</html>
